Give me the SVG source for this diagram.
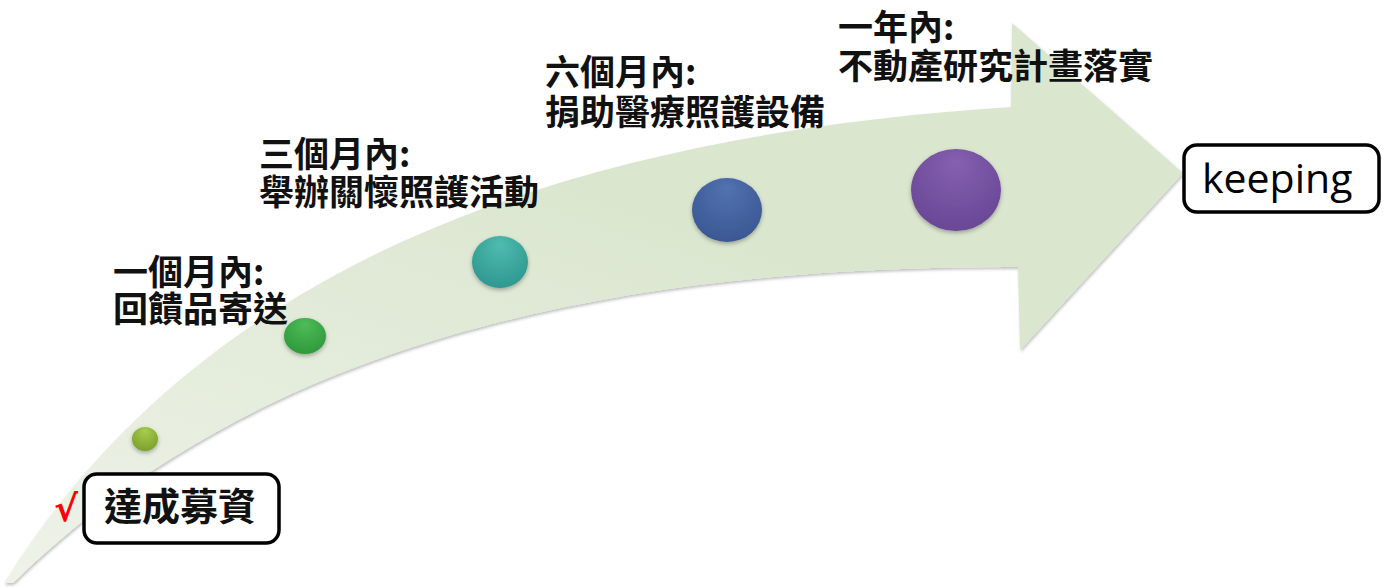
<svg xmlns="http://www.w3.org/2000/svg" width="1385" height="588" viewBox="0 0 1385 588">
<defs>
<style>
.zh{font-family:"Noto Sans CJK TC","Noto Sans CJK SC",sans-serif;font-weight:700;font-size:35px;fill:#111}
.box{fill:#fff;stroke:#000;stroke-width:3.5}
</style>
<linearGradient id="ag" x1="0" y1="1" x2="0.5" y2="0.3">
<stop offset="0" stop-color="#eef3e9"/>
<stop offset="1" stop-color="#dbe6cf"/>
</linearGradient>
<filter id="sh" x="-10%" y="-10%" width="120%" height="120%">
<feDropShadow dx="1" dy="2" stdDeviation="1.5" flood-color="#000" flood-opacity="0.25"/>
</filter>
<filter id="ds" x="-30%" y="-30%" width="160%" height="160%">
<feDropShadow dx="0" dy="2" stdDeviation="2" flood-color="#000" flood-opacity="0.3"/>
</filter>
<radialGradient id="g1" cx="0.5" cy="0.35" r="0.65" fx="0.5" fy="0.15"><stop offset="0" stop-color="#a9cd50"/><stop offset="1" stop-color="#7ca12c"/></radialGradient>
<radialGradient id="g2" cx="0.5" cy="0.35" r="0.65" fx="0.5" fy="0.15"><stop offset="0" stop-color="#4fbc58"/><stop offset="1" stop-color="#2f9a3c"/></radialGradient>
<radialGradient id="g3" cx="0.5" cy="0.35" r="0.65" fx="0.5" fy="0.15"><stop offset="0" stop-color="#4fbdb0"/><stop offset="1" stop-color="#2f9890"/></radialGradient>
<radialGradient id="g4" cx="0.5" cy="0.35" r="0.65" fx="0.5" fy="0.15"><stop offset="0" stop-color="#5272b0"/><stop offset="1" stop-color="#3a5894"/></radialGradient>
<radialGradient id="g5" cx="0.5" cy="0.35" r="0.65" fx="0.5" fy="0.15"><stop offset="0" stop-color="#8560b0"/><stop offset="1" stop-color="#6a4896"/></radialGradient>
</defs>
<rect width="1385" height="588" fill="#fff"/>
<g id="connectors">
<path id="arrow" d="M4,583 C180,300 500,140 1011,107 L1012,23 L1183,173 L1020,350 L1018,267 C550,265 230,370 13,583 Z" fill="url(#ag)" filter="url(#sh)"/>
</g>
<g id="dot1"><ellipse cx="145" cy="439" rx="13" ry="12" fill="url(#g1)" filter="url(#ds)"/></g>
<g id="dot2"><ellipse cx="305" cy="336" rx="21" ry="18" fill="url(#g2)" filter="url(#ds)"/></g>
<g id="dot3"><ellipse cx="500" cy="262" rx="28" ry="26" fill="url(#g3)" filter="url(#ds)"/></g>
<g id="dot4"><ellipse cx="727" cy="210" rx="35" ry="32" fill="url(#g4)" filter="url(#ds)"/></g>
<g id="dot5"><ellipse cx="956" cy="190" rx="45" ry="41" fill="url(#g5)" filter="url(#ds)"/></g>
<g id="label1">
<text class="zh" x="113" y="285">一個月內:</text>
<text class="zh" x="113" y="322">回饋品寄送</text>
</g>
<g id="label2">
<text class="zh" x="259" y="167">三個月內:</text>
<text class="zh" x="259" y="205">舉辦關懷照護活動</text>
</g>
<g id="label3">
<text class="zh" x="545" y="85">六個月內:</text>
<text class="zh" x="545" y="125">捐助醫療照護設備</text>
</g>
<g id="label4">
<text class="zh" x="838" y="40">一年內:</text>
<text class="zh" x="838" y="79">不動產研究計畫落實</text>
</g>
<g id="start">
<text x="54" y="521" font-family="DejaVu Sans, sans-serif" font-weight="700" font-size="36" fill="#ff0000">√</text>
<rect class="box" x="84" y="474" width="195" height="69" rx="13"/>
<text class="zh" x="104" y="520" style="font-size:38px">達成募資</text>
</g>
<g id="keeping">
<rect class="box" x="1184" y="145" width="195" height="67" rx="13"/>
<text x="1202" y="193" font-family="Open Sans, sans-serif" font-size="41" fill="#000">keeping</text>
</g>
</svg>
